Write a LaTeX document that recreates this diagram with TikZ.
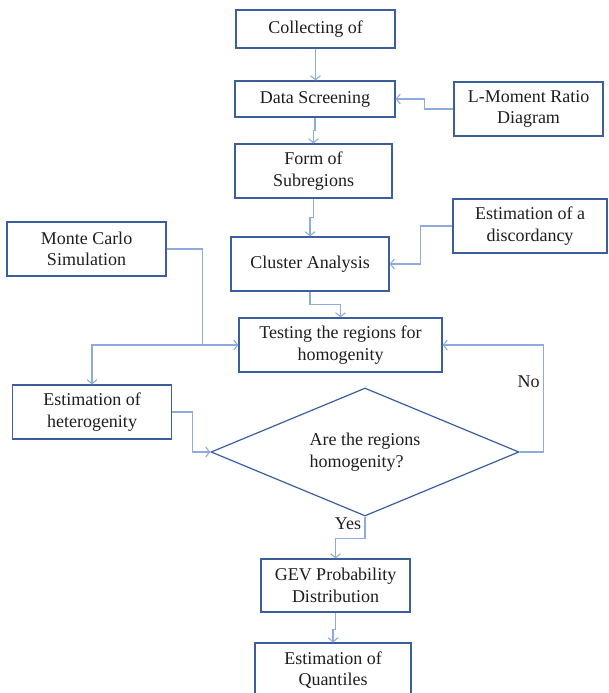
\documentclass[tikz,border=0pt]{standalone}
\usepackage{fontspec}
\setmainfont{Liberation Serif}
\usetikzlibrary{positioning,arrows.meta,shapes.geometric}
\definecolor{edge}{HTML}{3B5E9E}
\definecolor{wire}{HTML}{8FAADC}
\definecolor{ink}{HTML}{1E1E1E}
\tikzset{
  >={Straight Barb[length=4pt,width=10pt]},
  box/.style={draw=edge, line width=1.2pt, align=center, inner sep=2pt, text=ink,
              font=\fontsize{18}{21.5}\selectfont},
  dec/.style={box, diamond, aspect=2.4, inner sep=0pt, align=left},
  lbl/.style={text=ink, font=\fontsize{18}{21.5}\selectfont},
  l/.style={->, draw=wire, line width=1.1pt},
}

\begin{document}
\begin{tikzpicture}[x=1pt,y=-1pt]
  \useasboundingbox (0,0) rectangle (609,693);
  \clip (0,0) rectangle (609,693);
  % main column
  \node[box, minimum width=159pt, minimum height=38pt] (col) at (315.5,29) {Collecting of};
  \node[box, minimum width=160pt, minimum height=36pt] (scr) at (315,99) {Data Screening};
  \node[box, minimum width=157pt, minimum height=54pt] (form) at (313.5,171) {Form of\\Subregions};
  \node[box, minimum width=158pt, minimum height=54pt] (clu) at (310,264) {Cluster Analysis};
  \node[box, minimum width=203pt, minimum height=54pt] (test) at (340.5,345) {Testing the regions for\\homogenity};
  \node[dec, minimum width=308pt, minimum height=128pt] (dia) at (365,452) {Are the regions\\homogenity?};
  \node[box, minimum width=149pt, minimum height=53pt] (gev) at (335.5,585.5) {GEV Probability\\Distribution};
  \node[box, minimum width=156pt, minimum height=54pt] (qua) at (333,670) {Estimation of\\Quantiles};
  % side boxes
  \node[box, minimum width=149pt, minimum height=54pt] (lmr) at (528.5,109) {L-Moment Ratio\\Diagram};
  \node[box, minimum width=154pt, minimum height=54pt] (disc) at (530,226) {Estimation of a\\discordancy};
  \node[box, minimum width=159pt, minimum height=54pt] (mc) at (86.5,249) {Monte Carlo\\Simulation};
  \node[box, minimum width=159pt, minimum height=54pt] (het) at (92,412) {Estimation of\\heterogenity};

  % connectors
  \draw[l] (col.south) -- (col.south |- scr.north);
  \draw[l] (lmr.west) -- ++(-29,0) |- (scr.east);
  \draw[l] (scr.south) -- ++(0,13) -| (form.north);
  \draw[l] (form.south) -- ++(0,19) -| (clu.north);
  \draw[l] (disc.west) -- ++(-32,0) |- (clu.east);
  \draw[l] (clu.south) -- ++(0,13) -| (test.north);
  \draw[l] (mc.east) -- ++(36,0) coordinate (mcturn) |- (test.west);
  \coordinate (jn) at (mcturn |- test.west);
  \draw[l] (jn) -| (het.north);
  \draw[l] (het.east) -- ++(20,0) |- (dia.west);
  \draw[l] (dia.east) -- ++(24,0) |- node[lbl, pos=0.33, left] {No} (test.east);
  \draw[l] (dia.south) -- node[lbl, pos=0.3, left] {Yes} ++(0,22) -| (gev.north);
  \draw[l] (gev.south) -- ++(0,17) -| (qua.north);
\end{tikzpicture}
\end{document}
